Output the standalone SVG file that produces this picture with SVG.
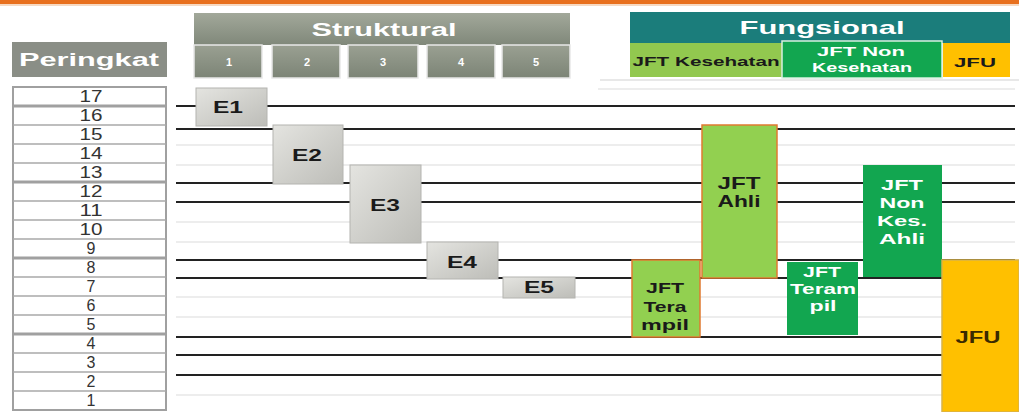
<svg xmlns="http://www.w3.org/2000/svg" width="1019" height="412" viewBox="0 0 1019 412">
<style>
.t{font-family:"Liberation Sans",Arial,sans-serif;font-weight:bold}
.w{fill:#ffffff}
.k{fill:#1a1a1a}
.num{font-family:"Liberation Sans",Arial,sans-serif;font-size:16px;fill:#333;text-anchor:middle}
.blk{stroke:#222;stroke-width:2}
.fnt{stroke:#dcdcdc;stroke-width:1.2}
.sep{stroke:#a8a8a8;stroke-width:1.5}
.sepk{stroke:#a0a0a0;stroke-width:3}
.ebox{fill:url(#eg);stroke:#b4b4b0;stroke-width:1}
.cell{fill:url(#sg);stroke:#e8e8e8;stroke-width:1.5}
</style>
<defs>
<linearGradient id="eg" x1="0" y1="0" x2="1" y2="1">
<stop offset="0" stop-color="#e4e4e0"/>
<stop offset="1" stop-color="#bdbdb8"/>
</linearGradient>
<linearGradient id="sg" x1="0" y1="0" x2="0" y2="1">
<stop offset="0" stop-color="#9aa092"/>
<stop offset="1" stop-color="#7c8476"/>
</linearGradient>
<linearGradient id="hg" x1="0" y1="0" x2="0" y2="1">
<stop offset="0" stop-color="#a2a89a"/>
<stop offset="1" stop-color="#80887a"/>
</linearGradient>
</defs>
<rect x="0" y="0" width="1019" height="412" fill="#ffffff"/>
<rect x="0" y="0" width="1019" height="4" fill="#e8701e"/>
<rect x="0" y="4" width="1019" height="2" fill="#f6d9c2"/>

<g id="grid">
<line class="fnt" x1="598" y1="89" x2="1015" y2="89"/>
<line class="fnt" x1="176" y1="145" x2="1015" y2="145"/>
<line class="fnt" x1="176" y1="165" x2="1015" y2="165"/>
<line class="fnt" x1="176" y1="222" x2="1015" y2="222"/>
<line class="fnt" x1="176" y1="242" x2="1015" y2="242"/>
<line class="fnt" x1="176" y1="297" x2="1015" y2="297"/>
<line class="fnt" x1="176" y1="317" x2="1015" y2="317"/>
<line class="fnt" x1="176" y1="395" x2="1015" y2="395"/>
<line class="blk" x1="176" y1="106" x2="1015" y2="106"/>
<line class="blk" x1="176" y1="129" x2="1015" y2="129"/>
<line class="blk" x1="176" y1="183" x2="1015" y2="183"/>
<line class="blk" x1="176" y1="202" x2="1015" y2="202"/>
<line class="blk" x1="176" y1="260" x2="1015" y2="260"/>
<line class="blk" x1="176" y1="278" x2="1015" y2="278"/>
<line class="blk" x1="176" y1="337" x2="1015" y2="337"/>
<line class="blk" x1="176" y1="355" x2="1015" y2="355"/>
<line class="blk" x1="176" y1="375" x2="1015" y2="375"/>
</g>

<g id="peringkat-header">
<rect x="12" y="42" width="155" height="35" fill="#8a8e86"/>
<text class="t w" x="89" y="66" font-size="18" text-anchor="middle" textLength="140" lengthAdjust="spacingAndGlyphs">Peringkat</text>
</g>

<g id="peringkat-table">
<rect x="13" y="87" width="153" height="323" fill="#ffffff" stroke="#a0a0a0" stroke-width="2"/>
<line class="sepk" x1="13" y1="106" x2="166" y2="106"/>
<line class="sep" x1="13" y1="125" x2="166" y2="125"/>
<line class="sep" x1="13" y1="144" x2="166" y2="144"/>
<line class="sep" x1="13" y1="163" x2="166" y2="163"/>
<line class="sepk" x1="13" y1="182" x2="166" y2="182"/>
<line class="sep" x1="13" y1="201" x2="166" y2="201"/>
<line class="sep" x1="13" y1="220" x2="166" y2="220"/>
<line class="sep" x1="13" y1="239" x2="166" y2="239"/>
<line class="sepk" x1="13" y1="258" x2="166" y2="258"/>
<line class="sep" x1="13" y1="277" x2="166" y2="277"/>
<line class="sep" x1="13" y1="296" x2="166" y2="296"/>
<line class="sep" x1="13" y1="315" x2="166" y2="315"/>
<line class="sepk" x1="13" y1="334" x2="166" y2="334"/>
<line class="sep" x1="13" y1="353" x2="166" y2="353"/>
<line class="sep" x1="13" y1="372" x2="166" y2="372"/>
<line class="sep" x1="13" y1="391" x2="166" y2="391"/>
<text class="num" x="91" y="102" textLength="23" lengthAdjust="spacingAndGlyphs">17</text>
<text class="num" x="91" y="121" textLength="23" lengthAdjust="spacingAndGlyphs">16</text>
<text class="num" x="91" y="140" textLength="23" lengthAdjust="spacingAndGlyphs">15</text>
<text class="num" x="91" y="159" textLength="23" lengthAdjust="spacingAndGlyphs">14</text>
<text class="num" x="91" y="178" textLength="23" lengthAdjust="spacingAndGlyphs">13</text>
<text class="num" x="91" y="197" textLength="23" lengthAdjust="spacingAndGlyphs">12</text>
<text class="num" x="91" y="216" textLength="23" lengthAdjust="spacingAndGlyphs">11</text>
<text class="num" x="91" y="235" textLength="23" lengthAdjust="spacingAndGlyphs">10</text>
<text class="num" x="91" y="254">9</text>
<text class="num" x="91" y="273">8</text>
<text class="num" x="91" y="292">7</text>
<text class="num" x="91" y="311">6</text>
<text class="num" x="91" y="330">5</text>
<text class="num" x="91" y="349">4</text>
<text class="num" x="91" y="368">3</text>
<text class="num" x="91" y="387">2</text>
<text class="num" x="91" y="406">1</text>
</g>

<g id="struktural-header">
<rect x="194" y="13" width="376" height="32" fill="url(#hg)"/>
<text class="t w" x="384" y="36" font-size="18" text-anchor="middle" textLength="145" lengthAdjust="spacingAndGlyphs">Struktural</text>
<rect class="cell" x="194" y="45" width="68" height="33"/>
<rect class="cell" x="272" y="45" width="68" height="33"/>
<rect class="cell" x="348" y="45" width="70" height="33"/>
<rect class="cell" x="427" y="45" width="68" height="33"/>
<rect class="cell" x="502" y="45" width="68" height="33"/>
<text class="t w" x="229" y="66" font-size="11" text-anchor="middle">1</text>
<text class="t w" x="307" y="66" font-size="11" text-anchor="middle">2</text>
<text class="t w" x="383" y="66" font-size="11" text-anchor="middle">3</text>
<text class="t w" x="461" y="66" font-size="11" text-anchor="middle">4</text>
<text class="t w" x="536" y="66" font-size="11" text-anchor="middle">5</text>
</g>

<g id="fungsional-header">
<rect x="630" y="12" width="380" height="31" fill="#1b7d7b"/>
<text class="t w" x="822" y="34" font-size="19" text-anchor="middle" textLength="165" lengthAdjust="spacingAndGlyphs">Fungsional</text>
<rect x="630" y="43" width="152" height="34" fill="#92c84f"/>
<text class="t k" x="706" y="66" font-size="12" text-anchor="middle" textLength="147" lengthAdjust="spacingAndGlyphs">JFT Kesehatan</text>
<rect x="782" y="41" width="160" height="37" fill="#12a650" stroke="#d8f0e0" stroke-width="1.5"/>
<text class="t w" x="861" y="56" font-size="12" text-anchor="middle" textLength="88" lengthAdjust="spacingAndGlyphs">JFT  Non</text>
<text class="t w" x="862" y="72" font-size="12" text-anchor="middle" textLength="100" lengthAdjust="spacingAndGlyphs">Kesehatan</text>
<rect x="943" y="43" width="67" height="34" fill="#ffc000"/>
<text class="t k" x="975" y="67" font-size="12" text-anchor="middle" textLength="42" lengthAdjust="spacingAndGlyphs">JFU</text>
<line x1="600" y1="80" x2="1019" y2="80" stroke="#e0e0e0" stroke-width="1.5"/>
</g>

<g id="E1">
<rect class="ebox" x="196" y="88" width="71" height="38"/>
<text class="t k" x="228" y="113" font-size="16" text-anchor="middle" textLength="30" lengthAdjust="spacingAndGlyphs">E1</text>
</g>
<g id="E2">
<rect class="ebox" x="273" y="125" width="70" height="59"/>
<text class="t k" x="307" y="161" font-size="16" text-anchor="middle" textLength="30" lengthAdjust="spacingAndGlyphs">E2</text>
</g>
<g id="E3">
<rect class="ebox" x="350" y="165" width="71" height="78"/>
<text class="t k" x="385" y="211" font-size="16" text-anchor="middle" textLength="30" lengthAdjust="spacingAndGlyphs">E3</text>
</g>
<g id="E4">
<rect class="ebox" x="427" y="242" width="71" height="37"/>
<text class="t k" x="462" y="268" font-size="16" text-anchor="middle" textLength="30" lengthAdjust="spacingAndGlyphs">E4</text>
</g>
<g id="E5">
<rect class="ebox" x="503" y="277" width="72" height="21"/>
<text class="t k" x="539" y="293" font-size="16" text-anchor="middle" textLength="30" lengthAdjust="spacingAndGlyphs">E5</text>
</g>

<g id="jft-terampil-kes">
<rect x="632" y="260" width="68" height="77" fill="#92d050" stroke="#e07a30" stroke-width="1.5"/>
<text class="t k" x="665" y="293" font-size="15" text-anchor="middle" textLength="38" lengthAdjust="spacingAndGlyphs">JFT</text>
<text class="t k" x="665" y="312" font-size="15" text-anchor="middle" textLength="43" lengthAdjust="spacingAndGlyphs">Tera</text>
<text class="t k" x="665" y="330" font-size="15" text-anchor="middle" textLength="48" lengthAdjust="spacingAndGlyphs">mpil</text>
</g>
<g id="jft-ahli-kes">
<rect x="702" y="125" width="75" height="153" fill="#92d050" stroke="#e07a30" stroke-width="1.5"/>
<text class="t k" x="739" y="189" font-size="17" text-anchor="middle" textLength="43" lengthAdjust="spacingAndGlyphs">JFT</text>
<text class="t k" x="739" y="207" font-size="17" text-anchor="middle" textLength="43" lengthAdjust="spacingAndGlyphs">Ahli</text>
</g>
<g id="jft-terampil-nonkes">
<rect x="787" y="262" width="71" height="73" fill="#12a650"/>
<text class="t w" x="822" y="277" font-size="15" text-anchor="middle" textLength="38" lengthAdjust="spacingAndGlyphs">JFT</text>
<text class="t w" x="823" y="294" font-size="15" text-anchor="middle" textLength="66" lengthAdjust="spacingAndGlyphs">Teram</text>
<text class="t w" x="823" y="311" font-size="15" text-anchor="middle" textLength="27" lengthAdjust="spacingAndGlyphs">pil</text>
</g>
<g id="jft-ahli-nonkes">
<rect x="863" y="165" width="79" height="112" fill="#12a650"/>
<text class="t w" x="902" y="190" font-size="15" text-anchor="middle" textLength="42" lengthAdjust="spacingAndGlyphs">JFT</text>
<text class="t w" x="902" y="208" font-size="15" text-anchor="middle" textLength="45" lengthAdjust="spacingAndGlyphs">Non</text>
<text class="t w" x="902" y="226" font-size="15" text-anchor="middle" textLength="50" lengthAdjust="spacingAndGlyphs">Kes.</text>
<text class="t w" x="902" y="244" font-size="15" text-anchor="middle" textLength="46" lengthAdjust="spacingAndGlyphs">Ahli</text>
</g>
<g id="jfu">
<rect x="942" y="260" width="77" height="152" fill="#ffc000" stroke="#d8b24a" stroke-width="1.5"/>
<text class="t" x="978" y="343" font-size="16" fill="#3a2a00" text-anchor="middle" textLength="45" lengthAdjust="spacingAndGlyphs">JFU</text>
</g>
</svg>
